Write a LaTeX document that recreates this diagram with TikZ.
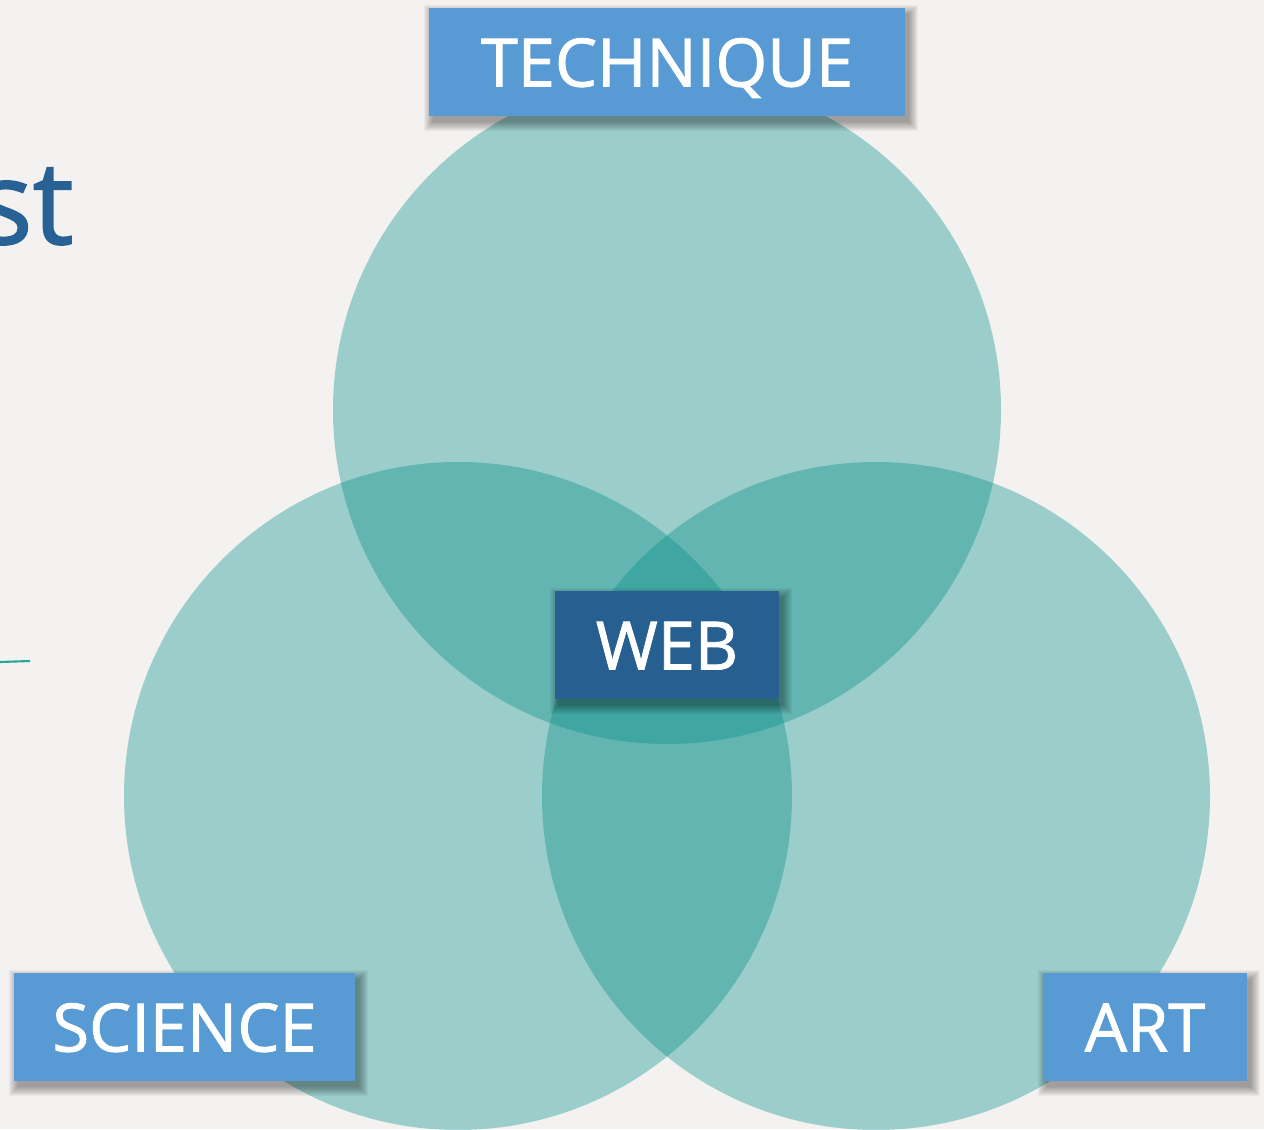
\documentclass[tikz,border=0pt]{standalone}
\usepackage{fontspec}
\setmainfont{Open Sans}
\newfontfamily\lblfont{Open Sans}[FakeBold=1.3]
\usetikzlibrary{calc}
\definecolor{bgc}{RGB}{244,242,240}
\definecolor{tealc}{RGB}{0,140,135}
\definecolor{lblue}{RGB}{88,155,212}
\definecolor{dblue}{RGB}{39,96,144}
\definecolor{ink}{RGB}{40,98,148}
\definecolor{linec}{RGB}{40,165,150}
\pgfdeclarelayer{back}
\pgfdeclarelayer{shade}
\pgfsetlayers{back,shade,main}
\tikzset{
  setcirc/.style={fill=tealc, fill opacity=0.36},
  labelbox/.style={fill=lblue, text=white, minimum height=2.16cm, inner sep=0pt,
    font=\lblfont\fontsize{38}{40}\selectfont, text height=0.98cm, text depth=0pt},
  webbox/.style={labelbox, fill=dblue},
}
\newcommand{\boxshadow}[1]{%
  \begin{pgfonlayer}{shade}
  \foreach \i in {0,...,9}{
    \fill[black, opacity=0.04]
      ($(#1.north west)+(4-\i,6-\i)$) rectangle ($(#1.south east)+(4+\i,6+\i)$);
  }
  \end{pgfonlayer}}
\begin{document}
\begin{tikzpicture}[x=0.02cm, y=-0.02cm]
\useasboundingbox (0,0) rectangle (1264,1129);
\begin{pgfonlayer}{back}
\fill[bgc] (0,0) rectangle (1264,1129);
\fill[setcirc] (667,410) circle[radius=334];
\fill[setcirc] (458,796) circle[radius=334];
\fill[setcirc] (876,796) circle[radius=334];
\end{pgfonlayer}
% cropped title fragment
\node[anchor=base east, text=ink, inner sep=0pt,
  font=\lblfont\fontsize{66}{70}\selectfont] (title) at (74,244) {st};
\coordinate (l0) at (0,662);
\coordinate (l1) at (30,661);
\draw[linec, line width=1.2pt] (l0) -- (l1);
% labels
\node[labelbox, minimum width=9.52cm] (tech) at (667,62) {TECHNIQUE};
\node[labelbox, minimum width=6.82cm] (sci) at (184.5,1027) {SCIENCE};
\node[labelbox, minimum width=4.08cm] (art) at (1145,1027) {ART};
\node[webbox, minimum width=4.48cm] (web) at (667,645) {WEB};
\boxshadow{tech}
\boxshadow{sci}
\boxshadow{art}
\boxshadow{web}
\end{tikzpicture}
\end{document}
